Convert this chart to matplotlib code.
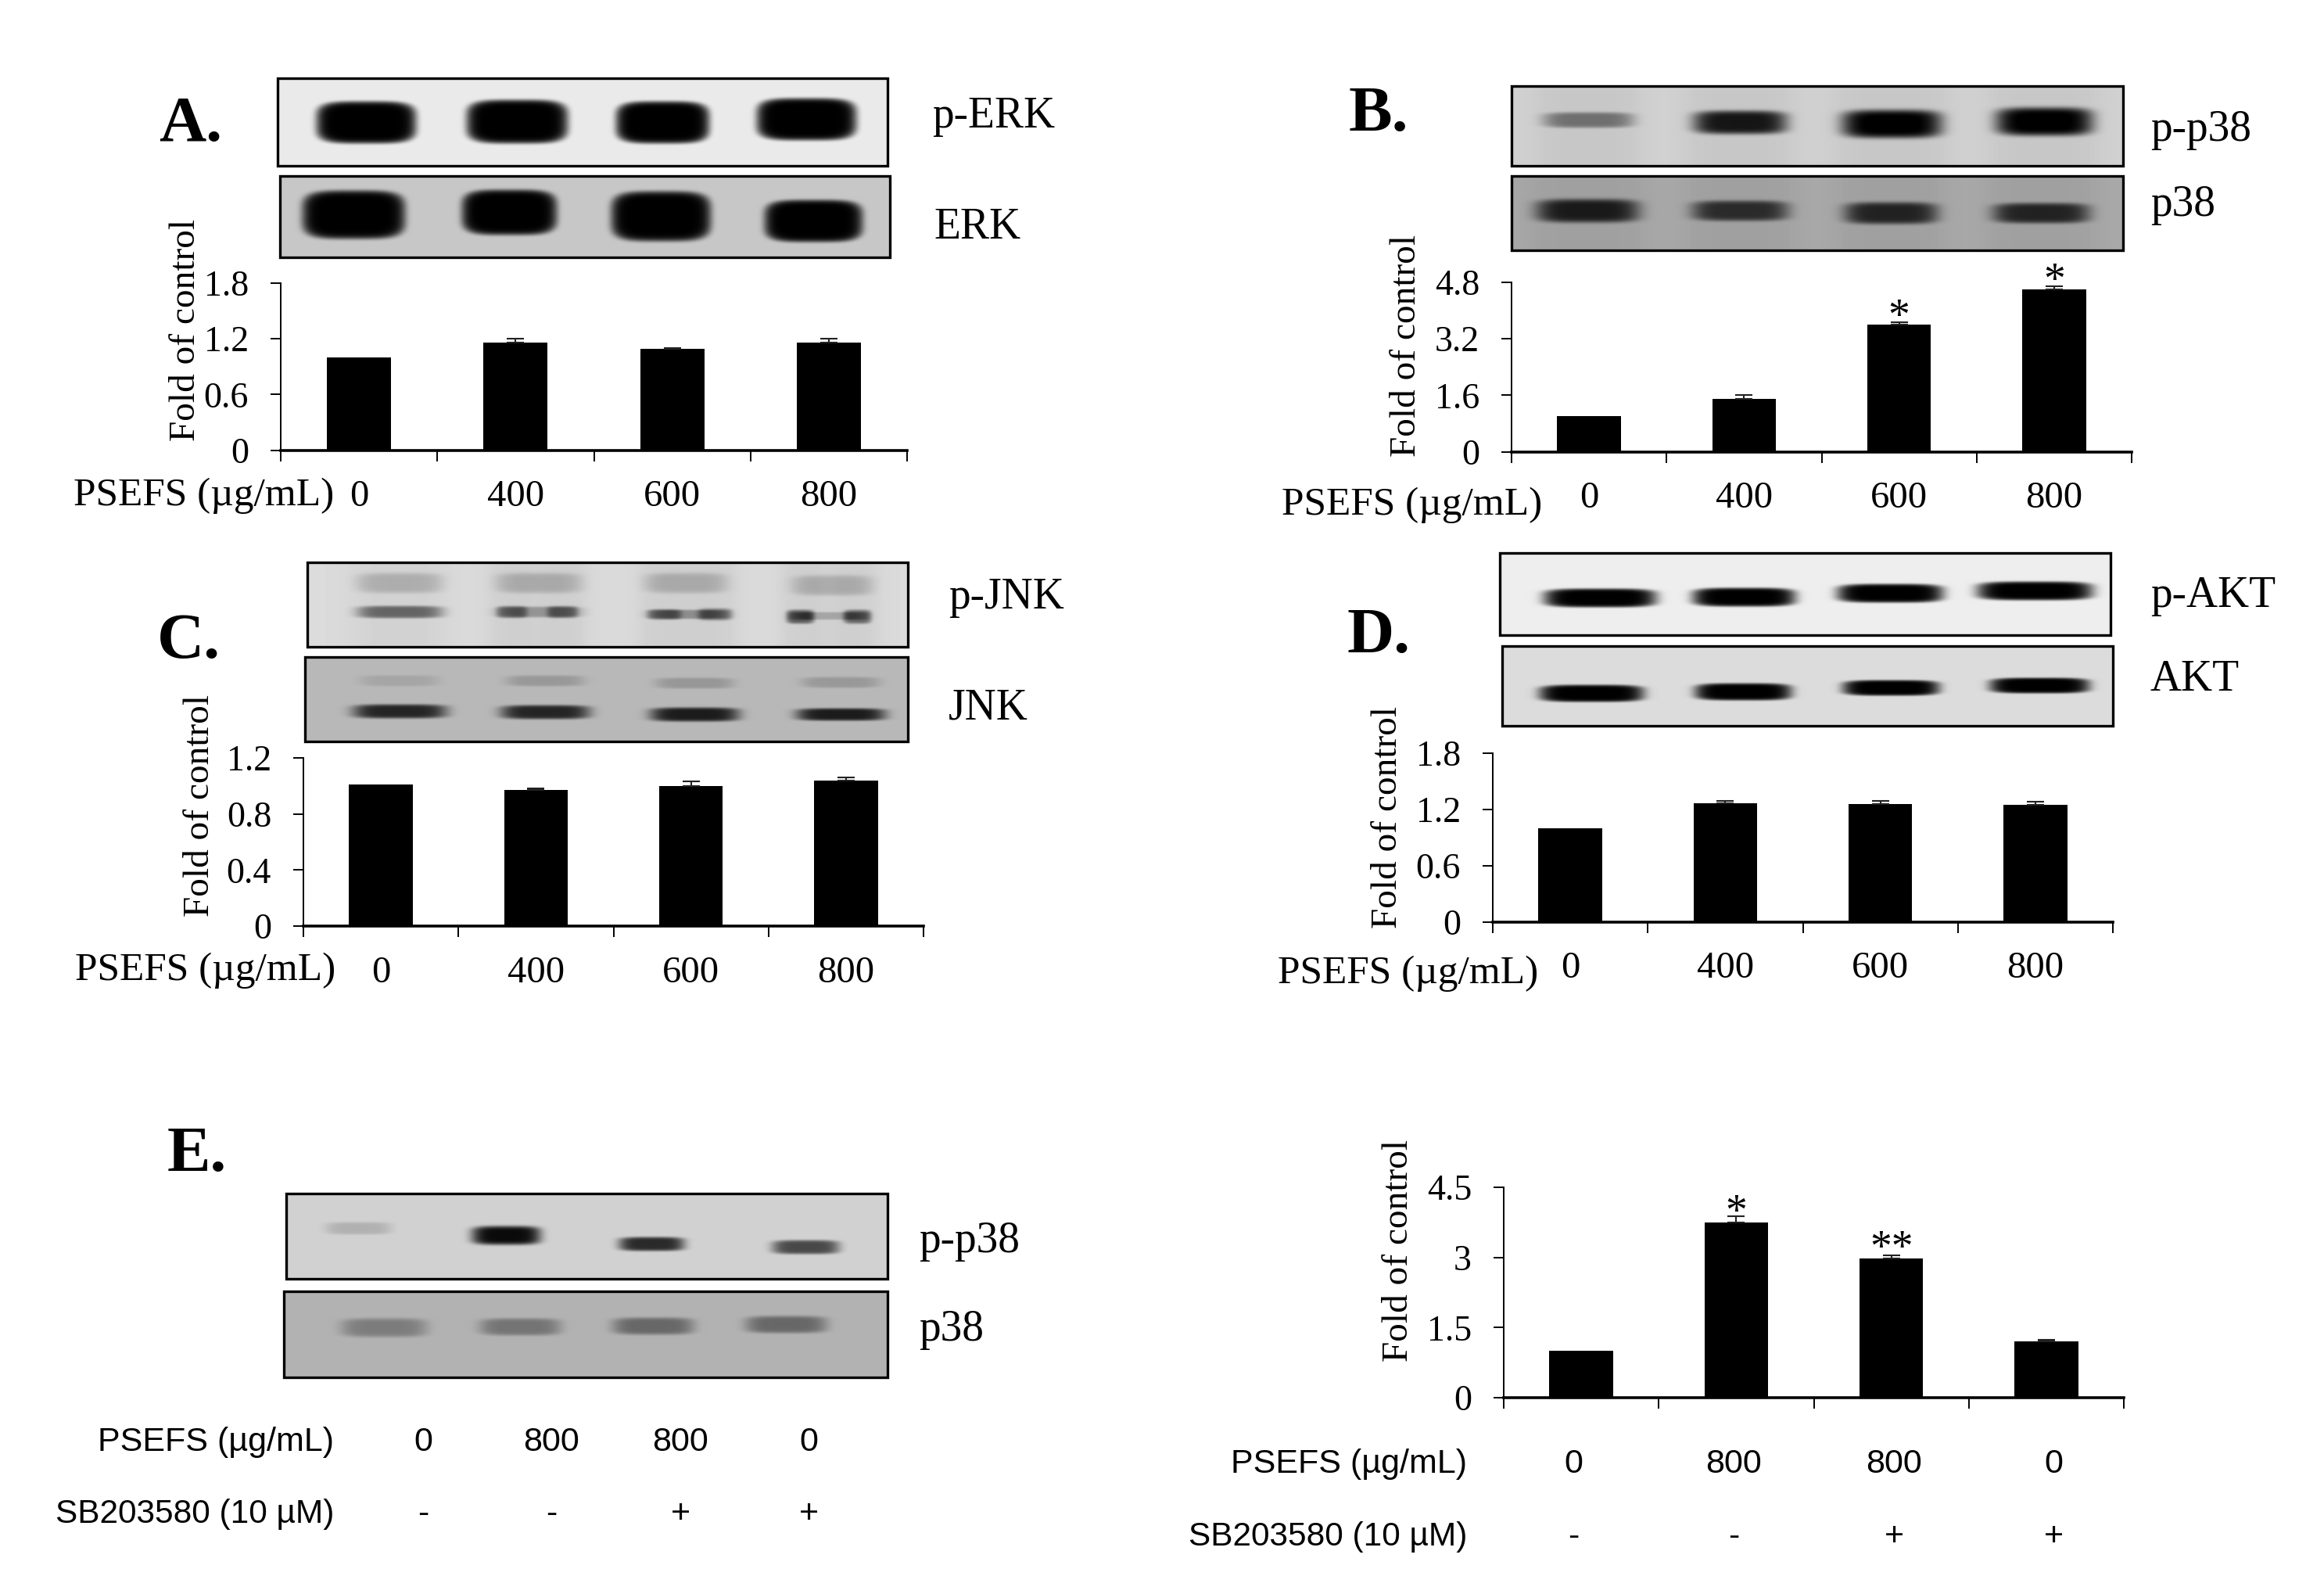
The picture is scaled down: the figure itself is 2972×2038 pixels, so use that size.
import numpy as np
import matplotlib
matplotlib.use('Agg')
import matplotlib.pyplot as plt
from matplotlib.patches import Rectangle

W, H = 2972, 2038
SERIF = 'Liberation Serif'
SANS = 'Liberation Sans'

# bar values
doses = ['0', '400', '600', '800']
vals_a = [1.0, 1.16, 1.09, 1.16]
errs_a = [0, 0.04, 0.01, 0.04]
ticks_a = ['0', '0.6', '1.2', '1.8']
vals_b = [1.0, 1.5, 3.6, 4.6]
errs_b = [0, 0.1, 0.08, 0.1]
ticks_b = ['0', '1.6', '3.2', '4.8']
stars_b = ['', '', '*', '*']
vals_c = [1.01, 0.97, 1.0, 1.04]
errs_c = [0, 0.01, 0.03, 0.02]
ticks_c = ['0', '0.4', '0.8', '1.2']
vals_d = [1.0, 1.27, 1.26, 1.25]
errs_d = [0, 0.02, 0.03, 0.03]
ticks_d = ['0', '0.6', '1.2', '1.8']
vals_e = [1.0, 3.75, 2.97, 1.2]
errs_e = [0, 0.13, 0.08, 0.03]
ticks_e = ['0', '1.5', '3', '4.5']
stars_e = ['', '*', '**', '']
psefs_e = ['0', '800', '800', '0']
sb_e = ['-', '-', '+', '+']

fig = plt.figure(figsize=(W / 100, H / 100), dpi=100, facecolor='white')
page = fig.add_axes([0, 0, 1, 1], zorder=0)
page.axis('off')


def blot(box, bg, bands, lane=0.0, power=1.5):
    # box is x0, y0, x1, y1 in picture pixels, bands are cx, cy, half w, half h, darkness
    x0, y0, x1, y1 = box
    xx, yy = np.meshgrid(np.arange(x0, x1), np.arange(y0, y1))
    dark = np.zeros(xx.shape)
    for cx, cy, hw, hh, d in bands:
        r = np.abs((xx - cx) / hw) ** 4 + np.abs((yy - cy) / hh) ** 4
        dark += d * np.exp(-r ** power)
        if lane:
            dark += lane * np.exp(-np.abs((xx - cx) / (hw + 12)) ** 4)
    img = bg * (1 - np.clip(dark, 0, 1))
    page.imshow(img, extent=(x0, x1, y1, y0), cmap='gray', vmin=0, vmax=1,
                aspect='auto', interpolation='bilinear')
    page.add_patch(Rectangle((x0, y0), x1 - x0, y1 - y0, fill=False, ec='black', lw=2.4))


def chart(rect, vals, errs, ticks, stars=None, dose_labels=None, star_off=None):
    l, t, r, b = rect
    ax = fig.add_axes([l / W, 1 - b / H, (r - l) / W, (b - t) / H], zorder=2)
    ax.patch.set_alpha(0)
    x = np.arange(4)
    ax.bar(x, vals, width=0.41, color='black')
    # the control bar has no error bar
    ax.errorbar(x[1:], vals[1:], yerr=[[0, 0, 0], errs[1:]], fmt='none', ecolor='#222222',
                elinewidth=1.5, capsize=8, capthick=1.5)
    ax.set_xlim(-0.5, 3.5)
    ax.set_ylim(0, float(ticks[-1]))
    ax.set_yticks(np.linspace(0, float(ticks[-1]), 4))
    ax.set_yticklabels(ticks, family=SERIF, fontsize=33)
    ax.tick_params(axis='y', length=9.5, width=1.4, pad=20)
    ax.set_xticks(np.arange(-0.5, 4, 1), minor=True)
    ax.tick_params(axis='x', which='minor', length=10, width=1.4)
    ax.set_xticks(x)
    if dose_labels:
        ax.set_xticklabels(dose_labels, family=SERIF, fontsize=35)
        ax.tick_params(axis='x', which='major', length=0, pad=27)
    else:
        ax.set_xticklabels([])
        ax.tick_params(axis='x', which='major', length=0)
    ax.spines['top'].set_visible(False)
    ax.spines['right'].set_visible(False)
    ax.spines['left'].set_linewidth(1.4)
    ax.spines['bottom'].set_linewidth(2.6)
    if stars:
        for i, s in enumerate(stars):
            if s:
                ax.annotate(s, (i, vals[i] + errs[i]), xytext=(0, star_off[i]),
                            textcoords='offset points', ha='center', va='baseline',
                            family=SERIF, fontsize=40)
    return ax


def words(x, y, s, size=35, ha='left', family=SERIF, weight='normal', rotation=0, va='baseline'):
    page.text(x, y, s, fontsize=size, ha=ha, va=va, family=family, weight=weight,
              rotation=rotation, color='black')


# panel A
blot((355, 100, 1135, 212), 0.92, [(468, 156, 64, 27, 1), (661, 155, 65, 28, 1),
                                   (847, 156, 60, 27, 1), (1031, 152, 64, 27, 1)], power=3)
blot((358, 225, 1138, 329), 0.78, [(452, 274, 66, 31, 1), (651, 271, 61, 29, 1),
                                   (845, 276, 64, 32, 1), (1040, 282, 63, 27, 1)], power=3)
chart((359, 362, 1160, 575.5), vals_a, errs_a, ticks_a, dose_labels=doses)

# panel B
blot((1933, 110, 2715, 212), 0.82, [(2031, 153, 58, 10, 0.42), (2225, 156, 60, 15, 0.85),
                                    (2419, 158, 64, 18, 0.97), (2614, 155, 62, 18, 0.97)], lane=0.05)
blot((1933, 225, 2715, 320), 0.66, [(2030, 269, 66, 15, 0.8), (2225, 269, 62, 13, 0.7),
                                    (2418, 272, 60, 14, 0.75), (2610, 272, 62, 13, 0.75)], lane=0.05)
chart((1933, 361, 2726, 577.5), vals_b, errs_b, ticks_b, stars=stars_b, dose_labels=doses,
      star_off=[0, 0, -7, -7])

# panel C, the p-JNK bands split into two blobs joined by a fainter strip
blot((393, 719, 1161, 827), 0.86, [(511, 782, 55, 8, 0.5),
                                   (654, 782, 20, 8, 0.33), (719, 782, 20, 8, 0.33), (689, 782, 55, 7, 0.27),
                                   (849, 785, 22, 7, 0.33), (914, 785, 22, 8, 0.35), (880, 785, 52, 6, 0.3),
                                   (1023, 788, 18, 9, 0.55), (1096, 788, 18, 9, 0.5), (1060, 787, 50, 5, 0.2),
                                   (511, 745, 55, 13, 0.17), (689, 745, 55, 13, 0.17),
                                   (877, 745, 53, 13, 0.17), (1064, 748, 52, 13, 0.17)], lane=0.02)
blot((390, 840, 1161, 948), 0.72, [(511, 909, 60, 9, 0.8), (697, 910, 57, 9, 0.8),
                                   (888, 913, 57, 9, 0.85), (1075, 913, 57, 8, 0.85),
                                   (511, 870, 50, 7, 0.1), (697, 870, 50, 7, 0.17),
                                   (888, 873, 50, 7, 0.18), (1075, 872, 50, 7, 0.17)])
chart((388, 969, 1181, 1184), vals_c, errs_c, ticks_c, dose_labels=doses)

# panel D
blot((1918, 707, 2699, 812), 0.93, [(2046, 764, 72, 12, 1), (2230, 763, 66, 12, 1),
                                    (2417, 758, 68, 12, 1), (2602, 755, 74, 12, 1)], power=2)
blot((1921, 826, 2702, 928), 0.86, [(2035, 886, 67, 11, 1), (2229, 884, 62, 11, 1),
                                    (2418, 879, 62, 10, 1), (2608, 876, 64, 10, 1)], power=2)
chart((1909, 963, 2702, 1179), vals_d, errs_d, ticks_d, dose_labels=doses)

# panel E
blot((366, 1526, 1135, 1635), 0.82, [(458, 1570, 42, 8, 0.15), (647, 1579, 44, 12, 0.95),
                                     (833, 1590, 42, 9, 0.8), (1030, 1594, 43, 9, 0.65)])
blot((363, 1651, 1135, 1761), 0.7, [(491, 1697, 55, 12, 0.3), (665, 1696, 52, 11, 0.35),
                                    (835, 1695, 52, 11, 0.42), (1005, 1693, 52, 11, 0.42)])
chart((1923, 1518, 2716, 1787), vals_e, errs_e, ticks_e, stars=stars_e,
      star_off=[0, -8, -5, 0])

page.set_xlim(0, W)
page.set_ylim(H, 0)

# panel letters
for letter, lx, ly in [('A.', 203, 180), ('B.', 1725, 167), ('C.', 201, 841),
                       ('D.', 1723, 834), ('E.', 214, 1497)]:
    words(lx, ly, letter, size=60, weight='bold')

# blot names
for name, lx, ly in [('p-ERK', 1192, 163), ('ERK', 1194, 305), ('p-p38', 2750, 180),
                     ('p38', 2750, 276), ('p-JNK', 1213, 778), ('JNK', 1213, 920),
                     ('p-AKT', 2750, 776), ('AKT', 2750, 883), ('p-p38', 1175, 1601),
                     ('p38', 1175, 1714)]:
    words(lx, ly, name, size=40)

# y titles
for lx, ly in [(238, 422), (1799, 442), (256, 1030), (1775, 1045), (1789, 1599)]:
    words(lx, ly, 'Fold of control', size=34, ha='center', va='center', rotation=90)

# dose row names
for rx, ry in [(427, 646), (1972, 658), (429, 1253), (1967, 1257)]:
    words(rx, ry, 'PSEFS (\u00b5g/mL)', size=37, ha='right')

# panel E rows, set in the sans face
for rx, ry, sy, xs in [(427, 1855, 1947, [541, 705, 870, 1034]),
                       (1876, 1883, 1976, [2012, 2217, 2422, 2626])]:
    words(rx, ry, 'PSEFS (\u00b5g/mL)', size=31, ha='right', family=SANS)
    words(rx, sy, 'SB203580 (10 \u00b5M)', size=30.5, ha='right', family=SANS)
    for i in range(4):
        words(xs[i], ry, psefs_e[i], size=31, ha='center', family=SANS)
        words(xs[i], sy, sb_e[i], size=31, ha='center', family=SANS)

fig.savefig('out.png', dpi=100)
